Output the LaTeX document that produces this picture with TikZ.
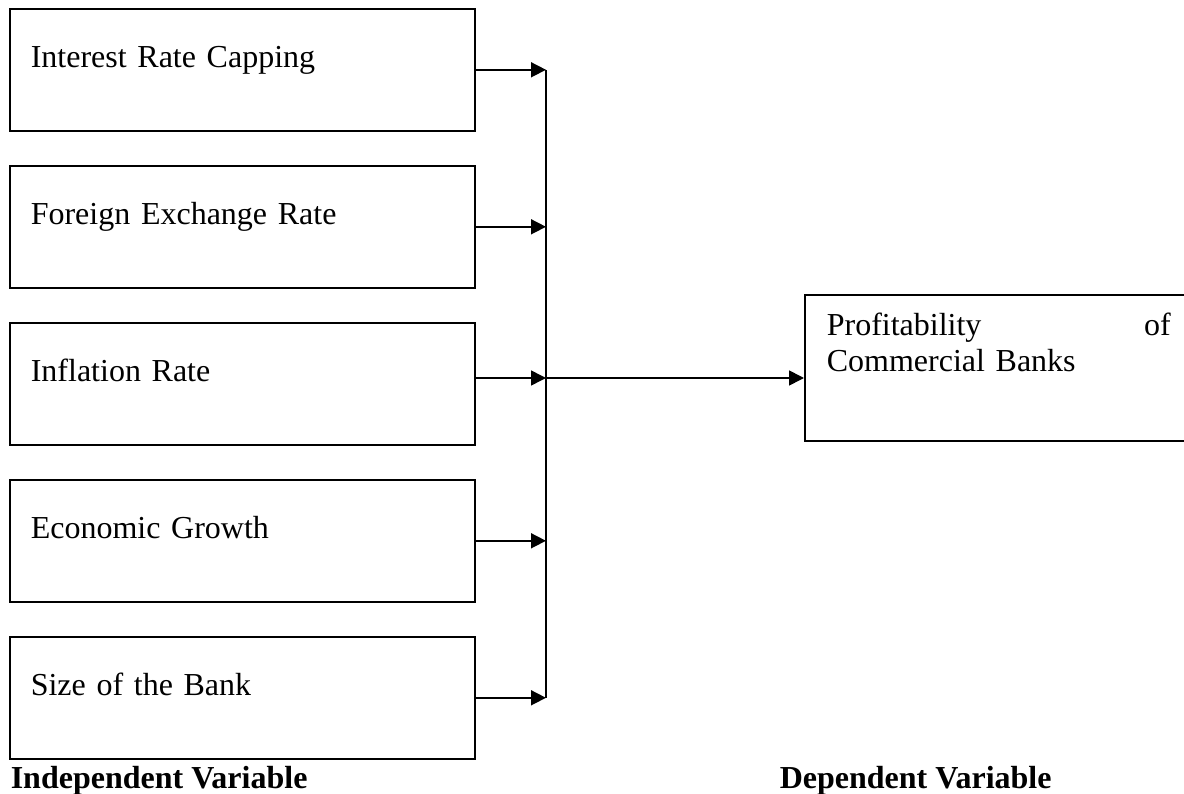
\documentclass[tikz,border=0pt]{standalone}
\usepackage{fontspec}
\setmainfont{Liberation Serif}
\usetikzlibrary{arrows.meta}
\begin{document}
\begin{tikzpicture}[x=1pt,y=-1pt,line width=1.6pt,>={Triangle[length=15pt,width=15pt]},
font=\fontsize{32}{36}\selectfont,
factor/.style={draw,anchor=north west,inner xsep=21pt,inner ysep=0pt,text width=423pt,align=left,text height=59pt,text depth=63pt},
outcome/.style={draw,anchor=north west,inner xsep=22pt,inner ysep=0pt,text width=344pt,align=left,text height=41pt,text depth=105pt},
heading/.style={anchor=base west,inner sep=0pt,font=\fontsize{32}{36}\selectfont\bfseries}]
\useasboundingbox(0,0)rectangle(1184,794);
\foreach\t[count=\i]in{Interest Rate Capping,Foreign Exchange Rate,Inflation Rate,Economic Growth,Size of the Bank}
\node[factor](f\i)at(9,{8+157*(\i-1)}){\t};
\node[outcome](prof)at(804,294){Profitability\hfill of\\Commercial Banks};
\coordinate(bus)at(546,0);
\coordinate(hub)at(546,378);
\foreach\i in{1,2,4,5}\draw[->](f\i.east)--(f\i.east-|bus);
\draw[->](f3.east|-hub)--(hub);
\draw(f1.east-|bus)--(f5.east-|bus);
\draw[->](hub)--(hub-|prof.west);
\node[heading](iv)at(10,788){Independent Variable};
\node[heading](dv)at(779,788){Dependent Variable};
\end{tikzpicture}
\end{document}
